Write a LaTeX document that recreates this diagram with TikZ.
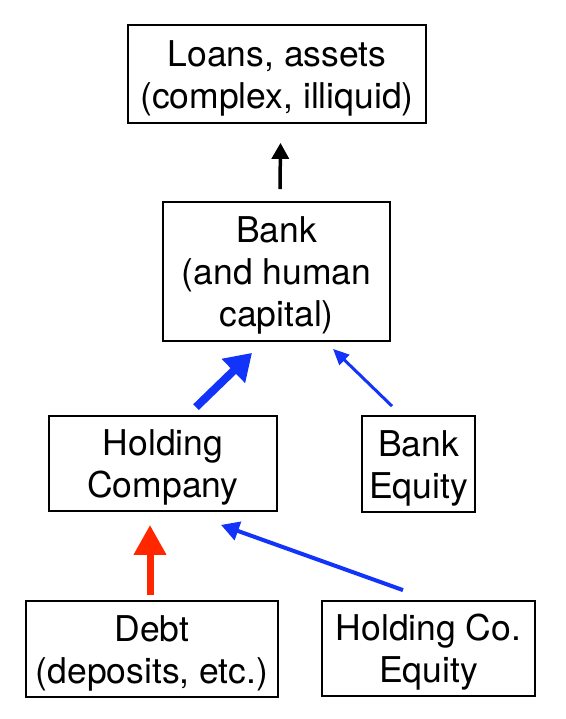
\documentclass[tikz,border=0pt]{standalone}
\usepackage{fontspec}
\setmainfont{TeX Gyre Heros}
\usetikzlibrary{arrows.meta}
\definecolor{ablue}{RGB}{18,52,250}
\definecolor{ared}{RGB}{255,38,0}
\newcommand\topstrut{\rule{0pt}{34pt}}
\tikzset{
  box/.style={draw=black, line width=1.8pt, inner sep=0pt, align=center,
    font=\fontsize{35.5}{42}\selectfont},
}
\begin{document}
\begin{tikzpicture}[x=1pt,y=-1pt]
\useasboundingbox (0,0) rectangle (565,719);
\node[box, minimum width=298pt, minimum height=98pt] (loans) at (277,74) {\topstrut Loans, assets\\(complex, illiquid)};
\node[box, minimum width=227pt, minimum height=139pt] (bank) at (276.5,271.5) {\topstrut Bank\\(and human\\capital)};
\node[box, minimum width=228pt, minimum height=95pt] (hc) at (163,463.5) {\topstrut Holding\\Company};
\node[box, minimum width=113pt, minimum height=96pt] (be) at (418.5,464) {\topstrut Bank\\Equity};
\node[box, minimum width=252pt, minimum height=96pt] (debt) at (152,649) {\topstrut Debt\\(deposits, etc.)};
\node[box, minimum width=213pt, minimum height=95pt] (hce) at (428.5,648.5) {\topstrut Holding Co.\\Equity};
% arrows
\draw[line width=3.5pt, -{Triangle[width=17pt,length=16pt]}] ([xshift=3.5pt,yshift=12pt]bank.north) -- ([xshift=3.5pt,yshift=-19pt]loans.south);
\draw[ablue, line width=8pt, -{Triangle[width=32pt,length=26pt]}] ([xshift=33pt,yshift=8pt]hc.north) -- ([xshift=-24.5pt,yshift=-11pt]bank.south);
\draw[ablue, line width=3pt, -{Triangle[width=14pt,length=16pt]}] ([xshift=-26.5pt,yshift=9pt]be.north) -- ([xshift=56.5pt,yshift=-7pt]bank.south);
\draw[ared, line width=7pt, -{Triangle[width=31pt,length=30pt]}] ([xshift=-2pt,yshift=5pt]debt.north) -- ([xshift=-13pt,yshift=-13pt]hc.south);
\draw[ablue, line width=4pt, -{Triangle[width=19pt,length=18pt]}] ([xshift=-25.5pt,yshift=10pt]hce.north) -- ([xshift=58pt,yshift=-13pt]hc.south);
\end{tikzpicture}
\end{document}
